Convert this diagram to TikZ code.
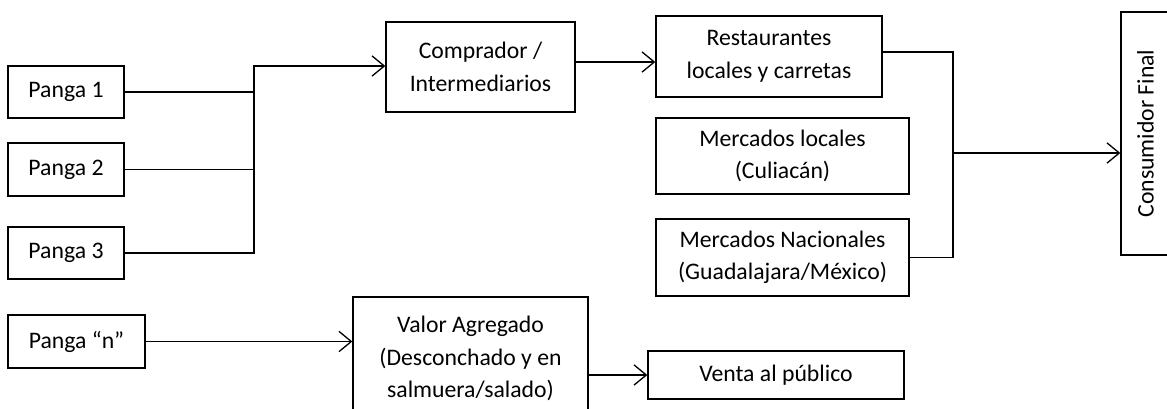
\documentclass[tikz,border=0pt]{standalone}
\usepackage{fontspec}
\setmainfont{Carlito}
\usetikzlibrary{arrows.meta}
\begin{document}
\begin{tikzpicture}[x=0.02cm,y=-0.02cm,line width=0.75pt,
  box/.style={draw,align=center,inner sep=2pt,font=\fontsize{13.5}{18.5}\selectfont},
  sz/.style 2 args={minimum width=#1*0.02cm,minimum height=#2*0.02cm},
  flow/.style={-{Straight Barb[length=7pt,width=11.5pt]}}]
  \useasboundingbox (0,0) rectangle (1167,409);
  % sources
  \node[box,sz={116}{52}] (p1) at (66,92) {Panga 1};
  \node[box,sz={116}{53}] (p2) at (66,169.5) {Panga 2};
  \node[box,sz={116}{52}] (p3) at (66,253) {Panga 3};
  \node[box,sz={137}{53}] (pn) at (76.5,341.5) {Panga “n”};
  % middle
  \node[box,sz={189}{90}] (comp) at (480.5,67) {Comprador /\\Intermediarios};
  \node[box,sz={235}{123}] (val) at (470.5,358.5) {Valor Agregado\\(Desconchado y en\\salmuera/salado)};
  % markets
  \node[box,sz={226}{81}] (rest) at (769,56.5) {Restaurantes\\locales y carretas};
  \node[box,sz={253}{76}] (loc) at (782.5,156) {Mercados locales\\(Culiacán)};
  \node[box,sz={253}{77}] (nac) at (782.5,257.5) {Mercados Nacionales\\(Guadalajara/México)};
  \node[box,sz={256}{48}] (venta) at (776,375) {Venta al público};
  \node[box,rotate=90,sz={243}{49}] (cons) at (1145.5,133.5) {Consumidor Final};
  % connectors
  \coordinate (jl) at (254,66);
  \coordinate (jr) at (953,153);
  \draw (p1.east) -- (p1.east -| jl);
  \draw (p2.east) -- (p2.east -| jl);
  \draw[flow] (p3.east) -| (jl) -- (jl -| comp.west);
  \draw[flow] ([yshift=0.1cm]comp.east) -- ([yshift=0.1cm]comp.east -| rest.west);
  \draw ([yshift=0.09cm]rest.east) -| (jr |- nac.east) -- (nac.east);
  \draw[flow] (jr) -- (jr -| cons.north);
  \draw[flow] (pn.east) -- (pn.east -| val.west);
  \draw[flow] (val.east |- venta.west) -- (venta.west);
\end{tikzpicture}
\end{document}
